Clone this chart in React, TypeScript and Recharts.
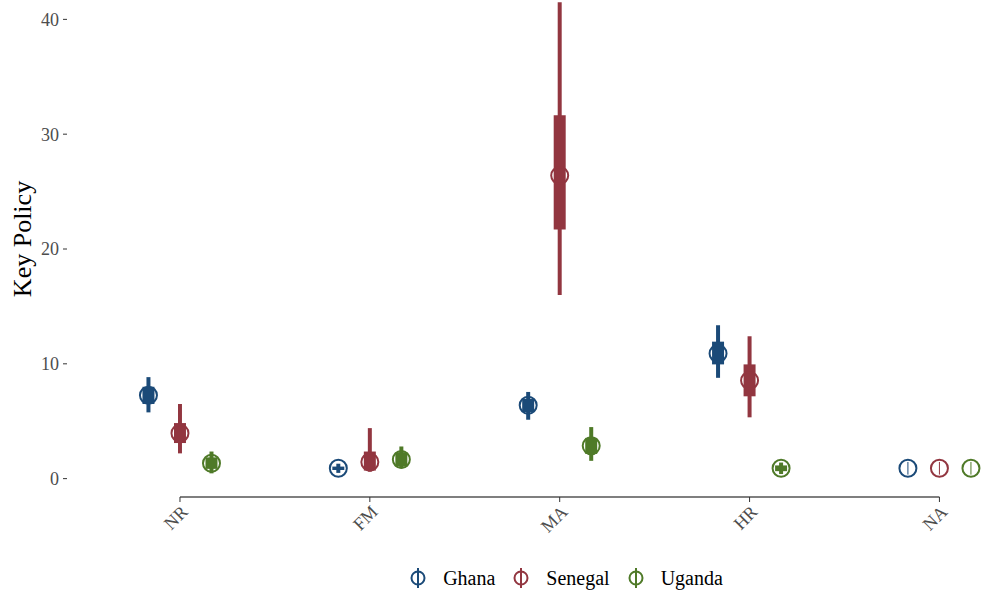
import React from 'react';
import {
  ComposedChart,
  Scatter,
  ErrorBar,
  XAxis,
  YAxis,
  ReferenceLine,
  Legend
} from 'recharts';

// categories on the x axis (positions 1..5)
const CATEGORIES = ['NR', 'FM', 'MA', 'HR', 'NA'];
const CAT_POS = [1, 2, 3, 4, 5];
const Y_TICKS = [0, 10, 20, 30, 40];

// dodge offset of each country inside a category
const DODGE = { Ghana: -0.166, Senegal: 0, Uganda: 0.166 };

const COLORS = {
  Ghana: '#1b4a78',
  Senegal: '#923640',
  Uganda: '#4f7a28'
};

// point estimates (NR, FM, MA, HR)
const ghanaEst = [7.26, 0.9, 6.39, 10.9];
const senegalEst = [3.96, 1.45, 26.4, 8.55];
const ugandaEst = [1.34, 1.66, 2.86, 0.9];

// outer interval (thin line)
const ghanaLo95 = [5.77, 0.5, 5.13, 8.78];
const ghanaHi95 = [8.84, 1.3, 7.55, 13.36];
const senegalLo95 = [2.2, 0.6, 16.0, 5.34];
const senegalHi95 = [6.5, 4.4, 41.5, 12.4];
const ugandaLo95 = [0.46, 0.9, 1.55, 0.4];
const ugandaHi95 = [2.36, 2.8, 4.49, 1.4];

// inner interval (thick line)
const ghanaLo66 = [6.5, 0.75, 5.8, 9.95];
const ghanaHi66 = [8.0, 1.05, 6.95, 11.93];
const senegalLo66 = [3.1, 0.7, 21.7, 7.17];
const senegalHi66 = [4.84, 2.36, 31.64, 9.95];
const ugandaLo66 = [0.85, 1.05, 2.15, 0.65];
const ugandaHi66 = [1.85, 2.3, 3.55, 1.15];

// the NA category: estimate and a short hairline
const naEst = [0.9, 0.9, 0.9];
const naLo = [0.35, 0.35, 0.35];
const naHi = [1.45, 1.45, 1.45];

const Y_DOMAIN = [-1.6, 41.6];
const X_DOMAIN = [0.405, 5.24];

const FONT = '"Liberation Serif", "DejaVu Serif", serif';

const build = (name, est, lo95, hi95, lo66, hi66) =>
  est.map((v, i) => ({
    x: CAT_POS[i] + DODGE[name],
    y: v,
    e95: [v - lo95[i], hi95[i] - v],
    e66: [v - lo66[i], hi66[i] - v]
  }));

const buildNa = (idx) => {
  const name = ['Ghana', 'Senegal', 'Uganda'][idx];
  return [{
    x: CAT_POS[4] + DODGE[name],
    y: naEst[idx],
    eNa: [naEst[idx] - naLo[idx], naHi[idx] - naEst[idx]]
  }];
};

const SERIES = [
  { name: 'Ghana', data: build('Ghana', ghanaEst, ghanaLo95, ghanaHi95, ghanaLo66, ghanaHi66) },
  { name: 'Senegal', data: build('Senegal', senegalEst, senegalLo95, senegalHi95, senegalLo66, senegalHi66) },
  { name: 'Uganda', data: build('Uganda', ugandaEst, ugandaLo95, ugandaHi95, ugandaLo66, ugandaHi66) }
];

const Ring = (color) => (props: any) => {
  const { cx, cy } = props;
  return <circle cx={cx} cy={cy} r={8.5} fill="none" stroke={color} strokeWidth={2} />;
};

const LegendContent = () => (
  <div style={{ display: 'flex', justifyContent: 'center', alignItems: 'center', height: 40, paddingLeft: 146, paddingTop: 8, boxSizing: 'border-box', fontFamily: FONT, fontSize: 20, color: '#000' }}>
    {SERIES.map((s, i) => (
      <div key={s.name} style={{ display: 'flex', alignItems: 'center', marginRight: i < 2 ? 16 : 0 }}>
        <svg width={20} height={22} style={{ marginRight: 15 }}>
          <circle cx={10} cy={11} r={6.5} fill="none" stroke={COLORS[s.name]} strokeWidth={2} />
          <line x1={10} y1={1} x2={10} y2={21} stroke={COLORS[s.name]} strokeWidth={2} />
        </svg>
        <span>{s.name}</span>
      </div>
    ))}
  </div>
);

const YLabel = (props: any) => {
  const { viewBox } = props;
  const x = viewBox.x + 22;
  const y = viewBox.y + viewBox.height / 2 - 10;
  return (
    <text x={x} y={y} transform={`rotate(-90 ${x} ${y})`} textAnchor="middle" dominantBaseline="central"
      fontFamily={FONT} fontSize={26} fill="#000">
      Key Policy
    </text>
  );
};

export default function App() {
  return (
    <div style={{ position: 'absolute', left: 0, top: 0, background: '#fff' }}>
      <ComposedChart width={985} height={594} margin={{ top: 1, right: 0, bottom: 0, left: 0 }}>
        <XAxis
          type="number"
          dataKey="x"
          domain={X_DOMAIN}
          ticks={CAT_POS}
          tickFormatter={(v) => CATEGORIES[v - 1]}
          axisLine={false}
          tickLine={{ stroke: '#333' }}
          tickSize={5}
          height={57}
          angle={-45}
          textAnchor="end"
          fontSize={18}
          fontFamily={FONT}
          tick={{ fill: '#4d4d4d', fontFamily: FONT, fontSize: 18 }}
          allowDataOverflow
        />
        <YAxis
          type="number"
          dataKey="y"
          domain={Y_DOMAIN}
          ticks={Y_TICKS}
          axisLine={false}
          tickLine={{ stroke: '#333' }}
          tickSize={4}
          tickMargin={4}
          width={67}
          fontSize={18}
          fontFamily={FONT}
          tick={{ fill: '#4d4d4d', fontFamily: FONT, fontSize: 18 }}
          allowDataOverflow
          label={<YLabel />}
        />
        <ReferenceLine
          segment={[{ x: 1, y: Y_DOMAIN[0] }, { x: 5, y: Y_DOMAIN[0] }]}
          stroke="#000"
          strokeWidth={1.2}
          ifOverflow="visible"
        />
        {SERIES.map((s) => (
          <Scatter key={s.name} name={s.name} data={s.data} shape={Ring(COLORS[s.name])} isAnimationActive={false}>
            <ErrorBar dataKey="e95" direction="y" width={0} stroke={COLORS[s.name]} strokeWidth={4} isAnimationActive={false} />
            <ErrorBar dataKey="e66" direction="y" width={0} stroke={COLORS[s.name]} strokeWidth={12} isAnimationActive={false} />
          </Scatter>
        ))}
        {[0, 1, 2].map((i) => (
          <Scatter key={'na' + i} name={'na' + i} legendType="none" data={buildNa(i)}
            shape={Ring(COLORS[SERIES[i].name])} isAnimationActive={false}>
            <ErrorBar dataKey="eNa" direction="y" width={0} stroke={COLORS[SERIES[i].name]} strokeWidth={1} isAnimationActive={false} />
          </Scatter>
        ))}
        <Legend verticalAlign="bottom" height={40} content={<LegendContent />} />
      </ComposedChart>
    </div>
  );
}
